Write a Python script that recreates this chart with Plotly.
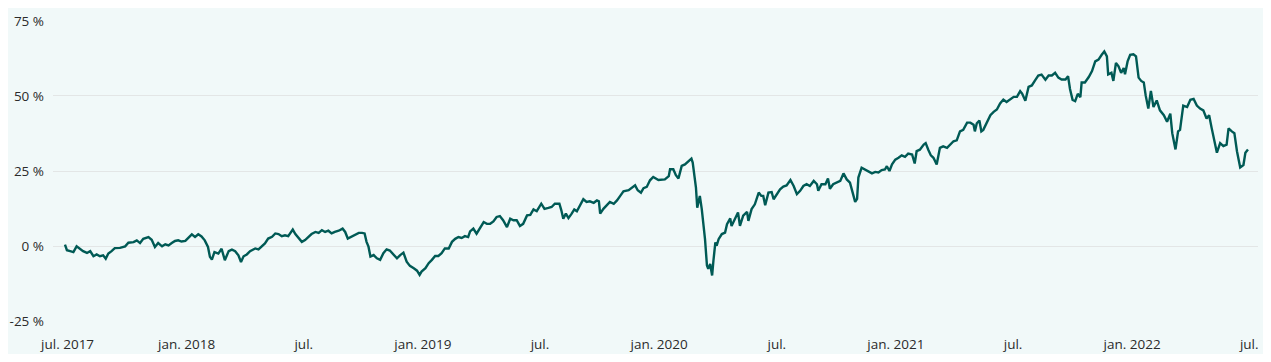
import plotly.graph_objects as go

# ---- data (cumulative return, %) ----
dates = [
    "2017-06-27", "2017-06-30", "2017-07-05", "2017-07-10", "2017-07-15", "2017-07-20", "2017-07-25", "2017-07-31",
    "2017-08-05", "2017-08-10", "2017-08-15", "2017-08-20", "2017-08-25", "2017-08-29", "2017-09-02", "2017-09-07",
    "2017-09-12", "2017-09-20", "2017-09-28", "2017-10-03", "2017-10-11", "2017-10-16", "2017-10-21", "2017-10-26",
    "2017-11-03", "2017-11-08", "2017-11-13", "2017-11-18", "2017-11-24", "2017-11-29", "2017-12-04", "2017-12-09",
    "2017-12-14", "2017-12-19", "2017-12-24", "2017-12-30", "2018-01-04", "2018-01-09", "2018-01-14", "2018-01-19",
    "2018-01-24", "2018-01-29", "2018-02-03", "2018-02-06", "2018-02-09", "2018-02-13", "2018-02-19", "2018-02-24",
    "2018-03-01", "2018-03-07", "2018-03-12", "2018-03-17", "2018-03-22", "2018-03-26", "2018-03-30", "2018-04-04",
    "2018-04-09",
    "2018-04-17", "2018-04-22", "2018-04-27", "2018-05-02", "2018-05-07", "2018-05-13", "2018-05-18", "2018-05-23",
    "2018-05-28", "2018-06-02", "2018-06-07", "2018-06-14", "2018-06-18", "2018-06-23", "2018-06-28", "2018-07-03",
    "2018-07-08", "2018-07-13", "2018-07-19", "2018-07-24", "2018-07-29", "2018-08-03", "2018-08-08", "2018-08-13",
    "2018-08-18", "2018-08-24", "2018-08-30", "2018-09-03", "2018-09-07", "2018-09-13", "2018-09-18", "2018-09-24",
    "2018-09-29", "2018-10-03", "2018-10-06", "2018-10-09", "2018-10-12", "2018-10-17", "2018-10-22", "2018-10-27",
    "2018-11-01", "2018-11-06", "2018-11-11", "2018-11-17", "2018-11-22", "2018-11-27", "2018-12-02", "2018-12-07",
    "2018-12-12", "2018-12-18", "2018-12-23", "2018-12-27", "2018-12-30", "2019-01-05", "2019-01-10", "2019-01-15",
    "2019-01-20", "2019-01-25", "2019-01-30", "2019-02-04", "2019-02-10", "2019-02-15",
    "2019-02-20", "2019-02-25", "2019-03-02", "2019-03-07", "2019-03-12", "2019-03-15", "2019-03-20", "2019-03-25",
    "2019-03-30", "2019-04-05", "2019-04-10", "2019-04-15", "2019-04-20", "2019-04-25", "2019-04-30", "2019-05-05",
    "2019-05-11", "2019-05-16", "2019-05-21", "2019-05-26", "2019-05-31", "2019-06-05", "2019-06-11", "2019-06-16",
    "2019-06-21", "2019-06-26", "2019-07-03", "2019-07-08", "2019-07-14", "2019-07-19", "2019-07-24", "2019-07-31",
    "2019-08-03", "2019-08-06", "2019-08-10", "2019-08-14", "2019-08-19", "2019-08-23", "2019-08-27", "2019-09-01",
    "2019-09-06", "2019-09-11", "2019-09-16", "2019-09-22", "2019-09-27", "2019-09-30", "2019-10-02", "2019-10-07",
    "2019-10-12", "2019-10-17", "2019-10-23", "2019-10-28", "2019-11-02", "2019-11-07", "2019-11-15", "2019-11-20",
    "2019-11-25", "2019-11-29", "2019-12-04", "2019-12-08", "2019-12-13", "2019-12-18", "2019-12-23",
    "2019-12-31", "2020-01-05", "2020-01-10", "2020-01-16", "2020-01-18", "2020-01-23", "2020-01-27", "2020-01-31",
    "2020-02-05", "2020-02-10", "2020-02-15", "2020-02-20", "2020-02-22", "2020-02-25", "2020-02-27", "2020-02-29",
    "2020-03-04", "2020-03-07", "2020-03-11", "2020-03-12", "2020-03-15", "2020-03-17", "2020-03-20", "2020-03-23",
    "2020-03-25", "2020-03-28", "2020-03-30", "2020-04-02", "2020-04-07", "2020-04-12", "2020-04-15", "2020-04-20",
    "2020-04-22", "2020-04-28", "2020-05-02", "2020-05-05", "2020-05-10", "2020-05-16", "2020-05-18", "2020-05-23",
    "2020-05-28", "2020-06-03", "2020-06-07", "2020-06-10", "2020-06-13", "2020-06-18", "2020-06-23", "2020-06-26",
    "2020-07-01", "2020-07-06", "2020-07-11", "2020-07-16", "2020-07-22", "2020-07-27", "2020-08-01", "2020-08-06",
    "2020-08-11", "2020-08-16", "2020-08-21", "2020-08-27", "2020-09-01", "2020-09-03", "2020-09-08", "2020-09-14",
    "2020-09-18", "2020-09-21", "2020-09-26", "2020-10-02", "2020-10-07", "2020-10-12", "2020-10-17", "2020-10-22",
    "2020-10-26", "2020-10-30",
    "2020-11-02", "2020-11-04", "2020-11-09", "2020-11-14", "2020-11-20", "2020-11-25", "2020-11-30", "2020-12-05",
    "2020-12-10", "2020-12-15", "2020-12-18", "2020-12-22", "2020-12-26", "2020-12-31", "2021-01-05", "2021-01-10",
    "2021-01-15", "2021-01-20", "2021-01-26", "2021-01-30", "2021-02-02", "2021-02-07", "2021-02-13", "2021-02-16",
    "2021-02-20", "2021-02-24", "2021-02-28", "2021-03-05", "2021-03-10", "2021-03-15", "2021-03-21", "2021-03-26",
    "2021-03-31", "2021-04-05", "2021-04-10", "2021-04-15", "2021-04-21", "2021-04-26", "2021-05-01", "2021-05-03",
    "2021-05-06", "2021-05-10", "2021-05-13", "2021-05-16", "2021-05-21", "2021-05-27", "2021-06-01", "2021-06-06",
    "2021-06-11", "2021-06-16", "2021-06-21", "2021-06-27", "2021-07-02", "2021-07-07", "2021-07-12", "2021-07-15",
    "2021-07-20", "2021-07-25", "2021-07-30", "2021-08-04", "2021-08-09", "2021-08-14", "2021-08-20", "2021-08-25",
    "2021-08-30",
    "2021-09-04", "2021-09-09", "2021-09-14", "2021-09-20", "2021-09-24", "2021-09-27", "2021-10-01", "2021-10-05",
    "2021-10-09", "2021-10-13", "2021-10-15", "2021-10-20", "2021-10-26", "2021-10-31", "2021-11-05", "2021-11-10",
    "2021-11-15", "2021-11-19", "2021-11-23", "2021-11-25", "2021-11-30", "2021-12-03", "2021-12-07", "2021-12-11",
    "2021-12-15", "2021-12-19", "2021-12-21", "2021-12-25", "2021-12-29", "2022-01-03", "2022-01-07", "2022-01-11",
    "2022-01-15", "2022-01-19", "2022-01-22", "2022-01-26", "2022-01-30", "2022-02-03", "2022-02-08", "2022-02-13",
    "2022-02-19", "2022-02-24", "2022-03-01", "2022-03-04", "2022-03-09", "2022-03-13", "2022-03-16", "2022-03-21",
    "2022-03-27", "2022-04-01", "2022-04-06", "2022-04-11", "2022-04-16", "2022-04-21", "2022-04-26", "2022-04-30",
    "2022-05-04", "2022-05-08", "2022-05-12", "2022-05-17", "2022-05-22", "2022-05-27", "2022-05-30", "2022-06-04",
    "2022-06-08", "2022-06-12", "2022-06-17", "2022-06-22", "2022-06-25", "2022-06-29",
]

returns_pct = [
    0.5, -1.4, -1.7, -2.0, -0.1, -0.9, -1.7, -2.3,
    -1.7, -3.4, -2.8, -3.4, -3.1, -4.2, -2.5, -1.7,
    -0.7, -0.6, -0.1, 1.1, 1.3, 1.9, 1.0, 2.4,
    3.0, 2.1, -0.3, 1.0, -0.1, 0.6, 0.2, 1.0,
    1.7, 1.9, 1.5, 1.7, 2.8, 3.9, 3.0, 3.9,
    3.2, 1.9, -0.3, -3.6, -4.5, -2.0, -2.5, -0.9,
    -4.7, -1.7, -1.2, -1.7, -3.1, -5.3, -3.4, -2.8,
    -1.7,
    -0.8, -1.1, -0.2, 0.9, 2.5, 3.1, 4.2, 4.0,
    3.3, 3.6, 3.3, 5.5, 4.0, 2.5, 1.4, 2.0,
    3.1, 4.0, 4.7, 4.4, 5.3, 4.7, 5.1, 4.2,
    4.7, 5.1, 5.8, 4.7, 2.5, 3.1, 3.6, 4.4,
    4.4, 4.2, 1.4, -0.2, -3.5, -3.0, -4.1, -4.6,
    -2.4, -1.1, -1.5, -3.0, -4.1, -3.0, -2.2, -5.2,
    -6.6, -7.4, -8.2, -9.6, -8.5, -7.4, -5.7, -4.6,
    -3.3, -3.3, -2.4, -0.8, -0.8, 1.4,
    2.4, 3.0, 2.7, 3.3, 3.0, 4.9, 5.8, 4.1,
    5.8, 8.0, 7.4, 7.4, 8.2, 9.7, 10.0, 8.6,
    6.3, 9.1, 8.6, 8.6, 6.7, 7.4, 10.2, 10.4,
    12.2, 11.6, 14.1, 12.4, 12.7, 13.0, 14.1, 14.1,
    11.9, 9.1, 10.8, 9.3, 10.8, 12.2, 11.6, 13.6,
    15.6, 14.7, 14.9, 14.4, 15.2, 14.9, 10.8, 12.4,
    13.6, 14.7, 14.1, 15.2, 16.7, 18.2, 18.6, 19.3,
    20.2, 18.6, 17.8, 19.3, 19.7, 21.9, 23.0,
    22.0, 22.2, 22.2, 23.3, 25.6, 25.6, 23.6, 22.5,
    26.7, 27.2, 28.0, 29.1, 27.8, 23.3, 19.5, 12.8,
    16.7, 12.3, 5.6, 2.3, -6.5, -7.6, -6.0, -9.8,
    -4.9, 1.2, 0.1, 2.3, 4.0, 4.5, 7.3, 9.2,
    6.7, 9.5, 11.2, 6.7, 10.1, 11.4, 8.4, 12.3,
    13.9, 17.8, 16.7, 16.7, 13.6, 17.8, 18.0, 15.6,
    17.3, 18.9, 19.8, 20.2, 22.0, 20.0, 17.3, 18.4,
    20.0, 20.6, 20.0, 21.7, 20.6, 18.4, 20.6, 20.6,
    22.5, 19.1, 20.6, 21.1, 21.7, 24.2, 22.2, 21.1,
    17.8, 14.7,
    15.7, 22.8, 26.1, 25.5, 25.0, 24.2, 24.7, 24.5,
    25.3, 25.5, 26.6, 25.0, 27.2, 28.8, 29.4, 30.2,
    29.7, 30.8, 30.5, 27.5, 31.6, 32.1, 33.8, 34.3,
    32.1, 30.2, 29.4, 27.2, 32.7, 33.2, 32.7, 33.8,
    34.9, 35.2, 38.2, 38.7, 41.1, 41.1, 40.4, 38.2,
    40.9, 41.8, 38.2, 38.7, 40.9, 43.6, 44.7, 45.5,
    47.5, 48.8, 48.0, 48.8, 49.7, 49.7, 51.6, 50.8,
    48.4, 53.0, 53.5, 55.2, 56.8, 57.1, 55.4, 56.8,
    56.8,
    57.7, 56.1, 55.5, 55.5, 56.6, 52.3, 48.7, 48.3,
    50.7, 49.6, 54.5, 54.5, 56.3, 58.3, 61.5, 62.1,
    63.7, 64.8, 63.2, 57.2, 57.7, 55.0, 61.0, 59.9,
    57.7, 59.3, 57.2, 61.5, 63.7, 63.9, 63.2, 56.1,
    55.0, 54.5, 50.1, 45.8, 51.7, 46.3, 48.5, 45.2,
    43.6, 41.4, 44.1, 37.6, 32.2, 38.2, 38.7, 46.8,
    46.3, 48.7, 49.0, 46.8, 45.8, 45.2, 42.5, 43.6,
    39.2, 35.4, 31.1, 34.3, 33.3, 33.8, 39.2, 38.2,
    37.6, 31.6, 26.2, 27.0, 31.1, 32.2,
]

x_tick_dates = ["2017-07-01", "2018-01-01", "2018-07-01", "2019-01-01", "2019-07-01", "2020-01-01",
                "2020-07-01", "2021-01-01", "2021-07-01", "2022-01-01", "2022-07-01"]
x_tick_labels = ["jul. 2017", "jan. 2018", "jul.", "jan. 2019", "jul.", "jan. 2020",
                 "jul.", "jan. 2021", "jul.", "jan. 2022", "jul."]
y_tick_values = [-25, 0, 25, 50, 75]
y_tick_labels = ["-25 %", "0 %", "25 %", "50 %", "75 %"]

BG = "#f1f9f9"
LINE = "#005a55"
GRID = "#e3e6e6"
FONT = dict(family="Open Sans, Noto Sans, sans-serif", size=13.5, color="#2b2b2b")

fig = go.Figure(
    go.Scatter(
        x=dates,
        y=returns_pct,
        mode="lines",
        line=dict(color=LINE, width=2.4),
        hoverinfo="x+y",
    )
)

# the page body has an 8px margin, so the figure is sized/placed to compensate
fig.update_layout(
    width=1262,
    height=346,
    margin=dict(l=45, r=12, t=12, b=32),
    paper_bgcolor=BG,
    plot_bgcolor=BG,
    showlegend=False,
    font=FONT,
)

fig.update_xaxes(
    automargin=False,
    range=["2017-06-08 12:00", "2022-07-14 12:00"],
    tickmode="array",
    tickvals=x_tick_dates,
    ticktext=x_tick_labels,
    showgrid=False,
    zeroline=False,
    showline=False,
    ticks="",
    ticklabelstandoff=12,
    tickfont=FONT,
)

fig.update_yaxes(
    automargin=False,
    range=[-25.3, 75.3],
    tickmode="array",
    tickvals=y_tick_values,
    ticktext=y_tick_labels,
    showgrid=True,
    gridcolor=GRID,
    gridwidth=1,
    zeroline=False,
    showline=False,
    ticks="",
    ticklabelstandoff=8,
    tickfont=FONT,
)

fig.write_html("out.html")
